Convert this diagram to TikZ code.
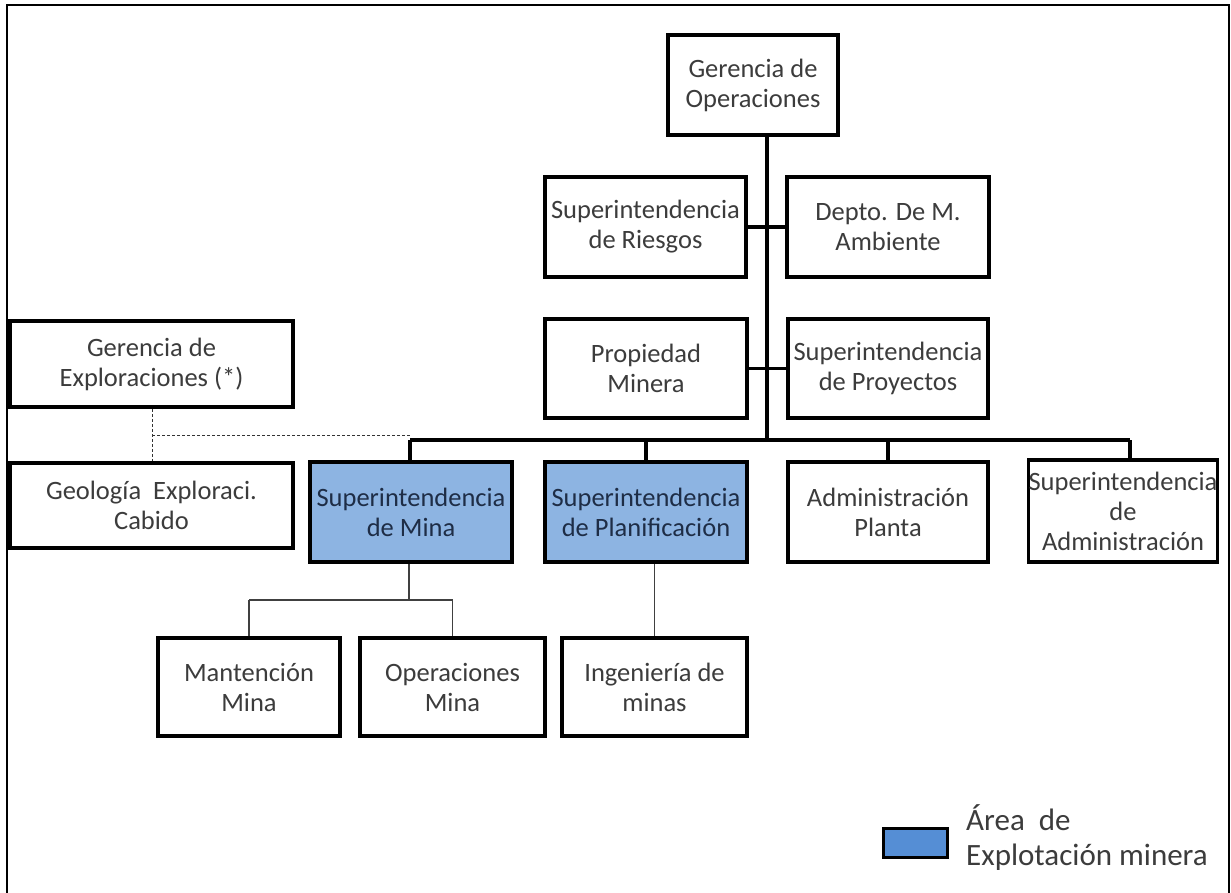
\documentclass[tikz,border=0pt]{standalone}
\usepackage{fontspec}
\setmainfont{Carlito}
\definecolor{txt}{RGB}{60,60,60}
\definecolor{hltxt}{RGB}{30,45,70}
\definecolor{hlfill}{RGB}{141,180,226}
\definecolor{legfill}{RGB}{85,142,213}
\begin{document}
\begin{tikzpicture}[x=1pt,y=-1pt,
  box/.style={draw=black,line width=3.5pt,fill=white,align=center,inner sep=0pt,
    text=txt,font=\fontsize{26.5}{30}\selectfont},
  hl/.style={box,fill=hlfill,text=hltxt},
  thick line/.style={line width=3.5pt},
  thin line/.style={line width=1.3pt,draw=black!75},
  dash line/.style={line width=1pt,dash pattern=on 3pt off 2pt,draw=black!80}]
\useasboundingbox (0,0) rectangle (1231,893);
\fill[white] (0,0) rectangle (1231,893);
% frame
\draw[line width=2.5pt] (7,893) -- (7,5) -- (1229,5) -- (1229,893);

% nodes
\node[box,minimum width=170,minimum height=100] (gop) at (753,85) {Gerencia de\\Operaciones};
\node[box,minimum width=201,minimum height=100] (rie) at (645.5,227) {Superintendencia\\de Riesgos};
\node[box,minimum width=202,minimum height=100] (amb) at (888,227) {Depto. De M.\\Ambiente};
\node[box,minimum width=202,minimum height=99] (pro) at (646,368.5) {Propiedad\\Minera};
\node[box,minimum width=200,minimum height=99] (pry) at (888,368.5) {Superintendencia\\de Proyectos};
\node[box,minimum width=283,minimum height=86] (gex) at (151.5,364) {Gerencia de\\Exploraciones (*)};
\node[box,minimum width=283,minimum height=85] (geo) at (151.5,505.5) {Geología\ \ Exploraci.\\Cabido};
\node[hl,minimum width=202,minimum height=100] (mina) at (411,512) {Superintendencia\\de Mina};
\node[hl,minimum width=202,minimum height=100] (plan) at (646,512) {Superintendencia\\de Planificación};
\node[box,minimum width=200,minimum height=100] (adm) at (888,512) {Administración\\Planta};
\node[box,minimum width=186,minimum height=102] (sadm) at (1123,511) {Superintendencia\\de\\Administración};
\node[box,minimum width=182,minimum height=98] (man) at (249,687) {Mantención\\Mina};
\node[box,minimum width=185,minimum height=98] (opm) at (452.5,687) {Operaciones\\Mina};
\node[box,minimum width=185,minimum height=98] (ing) at (654.5,687) {Ingeniería de\\minas};

% coordinates
\coordinate (bus) at (767,440);
\coordinate (busL) at (410,440);
\coordinate (busR) at (1130,440);
\coordinate (dashc) at (152,435);
\coordinate (dashe) at (410,435);
\coordinate (subj) at (409,600);

% connectors (drawn behind via order: draw before? nodes are filled; draw lines then redraw not needed)
\begin{scope}[on background layer/.style={}]
\draw[thick line] (gop.south -| bus) -- (bus);
\draw[thick line] (rie.east) -- (amb.west);
\draw[thick line] (pro.east) -- (pry.west);
\draw[thick line] (busL) -- (busR);
\draw[thick line] (busL) -- (mina.north -| busL);
\draw[thick line] (plan.north |- bus) -- (plan.north);
\draw[thick line] (adm.north |- bus) -- (adm.north);
\draw[thick line] (busR) -- (sadm.north -| busR);
\draw[dash line] (gex.south -| dashc) -- (geo.north -| dashc);
\draw[dash line] (dashc) -- (dashe);
\draw[thin line] (mina.south -| subj) -- (subj);
\draw[thin line] (man.north |- subj) -- (opm.north |- subj);
\draw[thin line] (man.north |- subj) -- (man.north);
\draw[thin line] (opm.north |- subj) -- (opm.north);
\draw[thin line] (plan.south -| ing.north) -- (ing.north);
\end{scope}

% legend
\node[draw=black,line width=3pt,fill=legfill,minimum width=64,minimum height=29,inner sep=0pt] (leg) at (915,843) {};
\node[anchor=west,align=left,inner sep=0pt,text=txt,font=\fontsize{31}{35}\selectfont] (legt) at (966,838) {Área\ \ de\\Explotación minera};
\end{tikzpicture}
\end{document}
